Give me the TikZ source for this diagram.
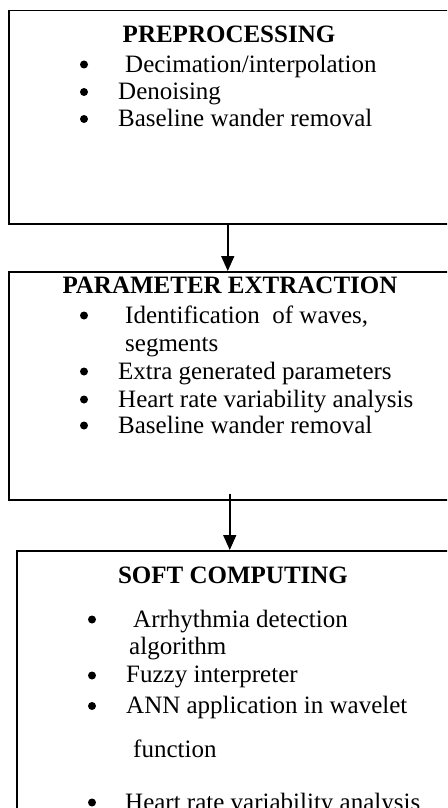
\documentclass[tikz,border=0pt]{standalone}
\usepackage{fontspec}
\setmainfont{Liberation Serif}
\usetikzlibrary{arrows.meta}

\begin{document}
\begin{tikzpicture}[x=1pt,y=-1pt]
      \tikzstyle{every node}+=[inner sep=0pt, font=\fontsize{25}{27}\selectfont]
      \tikzstyle{stage}=[draw=black, line width=1.5pt, anchor=north west]
      \tikzstyle{head}=[anchor=base, font=\fontsize{25}{27}\selectfont\bfseries]
      \tikzstyle{item}=[anchor=base west]
      \tikzstyle{dot}=[circle, fill=black, minimum size=8pt]
      \tikzstyle{flow}=[draw=black, line width=1.5pt, -{Triangle[length=15pt,width=13pt]}]
      \useasboundingbox (0,0) rectangle (447,808);
      \clip (0,0) rectangle (447,808);
      % stages
      \node [stage, minimum width=444pt, minimum height=213pt] (pre) at (8,10) {};
      \node [stage, minimum width=444pt, minimum height=228pt] (param) at (8,271) {};
      \node [stage, minimum width=444pt, minimum height=290pt] (soft) at (16,550) {};
      % preprocessing
      \draw (229,43) node [head] (preT) {PREPROCESSING};
      \draw (84,64.5) node [dot] (preB1) {};
      \draw (125,72) node [item] (preI1) {Decimation/interpolation};
      \draw (84,92) node [dot] (preB2) {};
      \draw (118,99.5) node [item] (preI2) {Denoising};
      \draw (84,119) node [dot] (preB3) {};
      \draw (118,126.5) node [item] (preI3) {Baseline wander removal};
      % parameter extraction
      \draw (230,293) node [head] (paramT) {PARAMETER EXTRACTION};
      \draw (84,315.5) node [dot] (paramB1) {};
      \draw (125,323) node [item] (paramI1) {Identification\ \ of waves,};
      \draw (125,351) node [item] (paramI1b) {segments};
      \draw (84,371.5) node [dot] (paramB2) {};
      \draw (118,379) node [item] (paramI2) {Extra generated parameters};
      \draw (84,399.5) node [dot] (paramB3) {};
      \draw (118,407) node [item] (paramI3) {Heart rate variability analysis};
      \draw (84,425.5) node [dot] (paramB4) {};
      \draw (118,433) node [item] (paramI4) {Baseline wander removal};
      % soft computing
      \draw (233,583) node [head] (softT) {SOFT COMPUTING};
      \draw (92,619.5) node [dot] (softB1) {};
      \draw (133,627) node [item] (softI1) {Arrhythmia detection};
      \draw (129,654) node [item] (softI1b) {algorithm};
      \draw (92,675.5) node [dot] (softB2) {};
      \draw (126,682) node [item] (softI2) {Fuzzy interpreter};
      \draw (92,706) node [dot] (softB3) {};
      \draw (126,713) node [item] (softI3) {ANN application in wavelet};
      \draw (133,757) node [item] (softI3b) {function};
      \draw (92,802.5) node [dot] (softB4) {};
      \draw (125,810) node [item] (softI4) {Heart rate variability analysis};
      % arrows
      \draw [flow] ([xshift=-3pt]pre.south) -- ([xshift=-3pt]pre.south |- param.north);
      \draw [flow] ([xshift=-1pt,yshift=7pt]param.south) -- ([xshift=-1pt]param.south |- soft.north);
\end{tikzpicture}
\end{document}
